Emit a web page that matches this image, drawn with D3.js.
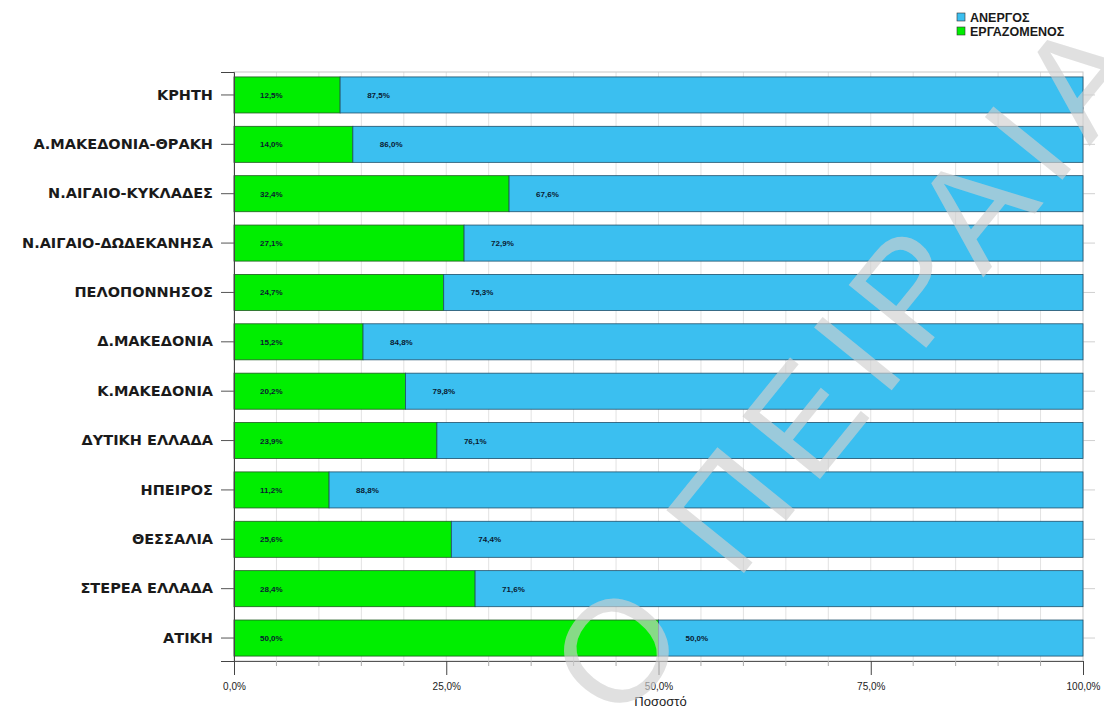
<!DOCTYPE html>
<html>
<head>
<meta charset="utf-8">
<script src="https://cdn.jsdelivr.net/npm/d3@7"></script>
<style>
  html, body { margin: 0; padding: 0; background: #fff; }
  svg { display: block; }
</style>
</head>
<body>
<script>
const categories = ["ΚΡΗΤΗ", "Α.ΜΑΚΕΔΟΝΙΑ-ΘΡΑΚΗ", "Ν.ΑΙΓΑΙΟ-ΚΥΚΛΑΔΕΣ", "Ν.ΑΙΓΑΙΟ-ΔΩΔΕΚΑΝΗΣΑ",
  "ΠΕΛΟΠΟΝΝΗΣΟΣ", "Δ.ΜΑΚΕΔΟΝΙΑ", "Κ.ΜΑΚΕΔΟΝΙΑ", "ΔΥΤΙΚΗ ΕΛΛΑΔΑ", "ΗΠΕΙΡΟΣ",
  "ΘΕΣΣΑΛΙΑ", "ΣΤΕΡΕΑ ΕΛΛΑΔΑ", "ΑΤΙΚΗ"];
const employed = [12.5, 14.0, 32.4, 27.1, 24.7, 15.2, 20.2, 23.9, 11.2, 25.6, 28.4, 50.0];
const unemployed = [87.5, 86.0, 67.6, 72.9, 75.3, 84.8, 79.8, 76.1, 88.8, 74.4, 71.6, 50.0];
const seriesNames = ["ΑΝΕΡΓΟΣ", "ΕΡΓΑΖΟΜΕΝΟΣ"];
const xTicks = [0, 25, 50, 75, 100];
const xTitle = "Ποσοστό";
const watermarkText = "Ο ΠΕΙΡΑΙΑ";

(function () {
const W = 1104, H = 711;
const pL = 234, pR = 1083, pT = 72, pB = 661;
const green = "#00ee00", blue = "#3bbff0";

const svg = d3.select("body").append("svg").attr("width", W).attr("height", H);

const x = d3.scaleLinear().domain([0, 100]).range([pL, pR]);
const y = d3.scaleBand().domain(categories).range([pT, pB]).paddingInner(0.27).paddingOuter(0.1);

const fmt = v => d3.format(".1f")(v).replace(".", ",") + "%";

// grid
const g = svg.append("g");
g.selectAll("line.vg").data(d3.range(5, 100, 5)).join("line")
  .attr("x1", d => x(d)).attr("x2", d => x(d))
  .attr("y1", pT).attr("y2", pB)
  .attr("stroke", "#e2e2e2").attr("stroke-width", 1);
g.selectAll("line.hg").data(categories).join("line")
  .attr("x1", pL).attr("x2", pR + 12)
  .attr("y1", d => y(d) + y.bandwidth() / 2).attr("y2", d => y(d) + y.bandwidth() / 2)
  .attr("stroke", "#d0d0d0").attr("stroke-width", 1);
g.append("rect").attr("x", pL).attr("y", pT).attr("width", pR - pL).attr("height", pB - pT)
  .attr("fill", "none").attr("stroke", "#c8c8c8");

// bars
const rows = categories.map((c, i) => ({ c, e: employed[i], u: unemployed[i] }));
const bars = svg.append("g");
bars.selectAll("rect.e").data(rows).join("rect")
  .attr("x", x(0)).attr("y", d => y(d.c))
  .attr("width", d => x(d.e) - x(0)).attr("height", y.bandwidth())
  .attr("fill", green).attr("stroke", "#1f5a1f").attr("stroke-width", 0.8);
bars.selectAll("rect.u").data(rows).join("rect")
  .attr("x", d => x(d.e)).attr("y", d => y(d.c))
  .attr("width", d => x(d.e + d.u) - x(d.e)).attr("height", y.bandwidth())
  .attr("fill", blue).attr("stroke", "#1f4f6a").attr("stroke-width", 0.8);

// labels in bars
const lab = svg.append("g").attr("font-family", "Liberation Sans, Arial, sans-serif")
  .attr("font-size", 8).attr("font-weight", "bold").attr("fill", "#0a1a30");
lab.selectAll("text.e").data(rows).join("text")
  .attr("x", x(0) + 26).attr("y", d => y(d.c) + y.bandwidth() / 2 + 3)
  .text(d => fmt(d.e));
lab.selectAll("text.u").data(rows).join("text")
  .attr("x", d => x(d.e) + 27).attr("y", d => y(d.c) + y.bandwidth() / 2 + 3)
  .text(d => fmt(d.u));

// y axis
const ya = svg.append("g").attr("transform", `translate(${pL},0)`)
  .call(d3.axisLeft(y).tickSize(13).tickPadding(8));
ya.select(".domain").attr("stroke", "#444");
ya.selectAll(".tick line").attr("stroke", "#555");
ya.selectAll("text").attr("font-family", "DejaVu Sans, sans-serif")
  .attr("font-size", 14.5).attr("font-weight", "bold").attr("fill", "#1a1a1a");

// x axis
const xa = svg.append("g").attr("transform", `translate(0,${pB})`)
  .call(d3.axisBottom(x).tickValues(xTicks).tickSize(14).tickPadding(8).tickFormat(fmt));
xa.select(".domain").attr("stroke", "#555");
xa.selectAll(".tick line").attr("stroke", "#444");
xa.selectAll("text").attr("font-family", "Liberation Sans Narrow, Liberation Sans, Arial, sans-serif")
  .attr("font-size", 10).attr("fill", "#222");
svg.append("g").selectAll("line").data(d3.range(5, 100, 5).filter(d => d % 25)).join("line")
  .attr("x1", d => x(d)).attr("x2", d => x(d)).attr("y1", pB).attr("y2", pB + 5)
  .attr("stroke", "#aaa");
svg.append("text").attr("x", x(50) + 2).attr("y", 706).attr("text-anchor", "middle")
  .attr("font-family", "Liberation Sans, Arial, sans-serif").attr("font-size", 13).attr("fill", "#222")
  .text(xTitle);

// legend
const leg = svg.append("g").attr("font-family", "Liberation Sans, Arial, sans-serif")
  .attr("font-size", 12.5).attr("font-weight", "bold").attr("fill", "#1a1a1a");
[[blue, seriesNames[0]], [green, seriesNames[1]]].forEach(([col, name], i) => {
  leg.append("rect").attr("x", 957).attr("y", 13 + i * 14).attr("width", 8).attr("height", 8)
    .attr("fill", col).attr("stroke", "#333").attr("stroke-width", 0.6);
  leg.append("text").attr("x", 970).attr("y", 21.5 + i * 14).text(name);
});

// watermark
svg.append("text")
  .attr("transform", "translate(620,726) rotate(-51)")
  .attr("font-family", "Liberation Sans, Arial, sans-serif").attr("font-size", 145)
  .attr("letter-spacing", 16)
  .attr("fill", "#cfcfcf").attr("fill-opacity", 0.65)
  .text(watermarkText);
})();
</script>
</body>
</html>
